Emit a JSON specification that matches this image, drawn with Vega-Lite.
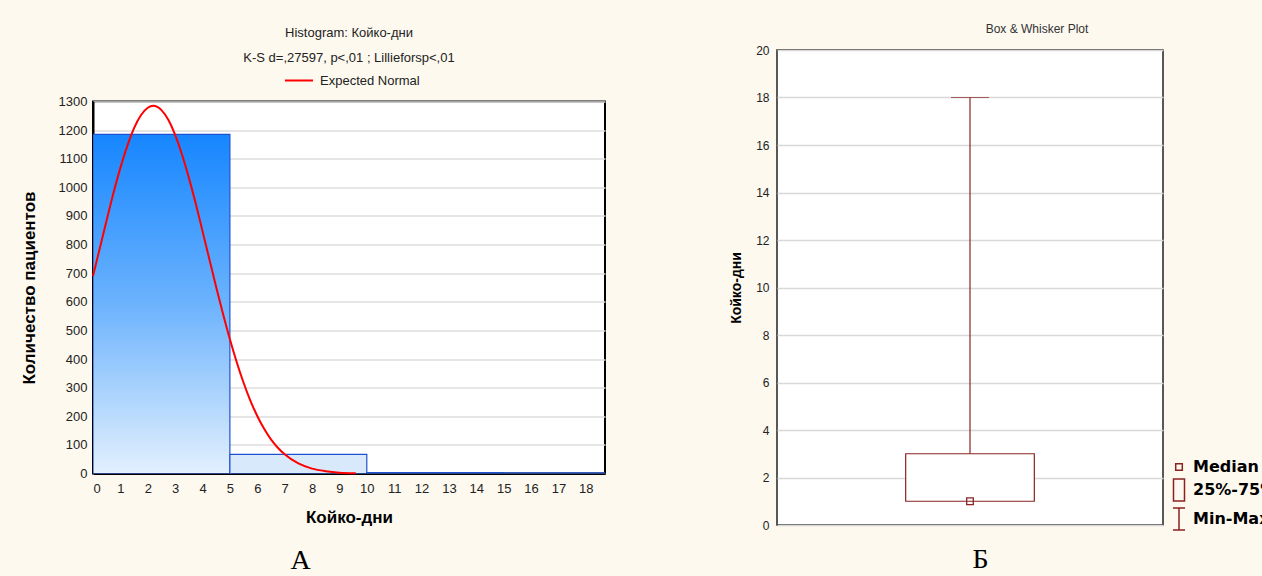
{
  "$schema": "https://vega.github.io/schema/vega-lite/v6.json",
  "background": "#fdf9ef",
  "padding": {"left": 19, "top": 22, "right": 0, "bottom": 0},
  "spacing": 172,
  "center": true,
  "bounds": "flush",
  "resolve": {"legend": {"color": "independent", "shape": "independent"}},
  "config": {
    "font": "Liberation Sans",
    "view": {"fill": "white"}
  },
  "hconcat": [
    {
      "width": 512,
      "height": 372,
      "title": {
        "text": "Histogram: Кoйко-дни",
        "subtitle": "K-S d=,27597, p<,01 ; Lillieforsp<,01",
        "fontSize": 13,
        "subtitleFontSize": 13,
        "fontWeight": "normal",
        "color": "#222222",
        "subtitleColor": "#222222",
        "subtitlePadding": 12,
        "offset": 1,
        "anchor": "middle"
      },
      "view": {"stroke": "black", "strokeWidth": 2, "fill": "white"},
      "resolve": {"scale": {"x": "independent"}, "axis": {"x": "independent"}},
      "layer": [
        {
          "data": {"values": [
            {"bin_start": 0, "bin_end": 5, "count": 1185},
            {"bin_start": 5, "bin_end": 10, "count": 67},
            {"bin_start": 10, "bin_end": 15, "count": 3},
            {"bin_start": 15, "bin_end": 20, "count": 2}
          ]},
          "mark": {"type": "bar", "stroke": "#1f52d2", "strokeWidth": 1.2, "clip": true},
          "encoding": {
            "x": {
              "field": "bin_start", "type": "quantitative",
              "scale": {"domain": [0, 18.7], "nice": false, "zero": false},
              "axis": {
                "orient": "bottom",
                "values": [0,1,2,3,4,5,6,7,8,9,10,11,12,13,14,15,16,17,18],
                "format": "d",
                "labelFontSize": 13, "labelColor": "#222222", "labelPadding": 9,
                "labelOverlap": false,
                "ticks": false, "grid": false,
                "domainColor": "black", "domainWidth": 2,
                "title": "Койко-дни", "titleFontSize": 17, "titleFontWeight": "bold",
                "titleColor": "black", "titlePadding": 14
              }
            },
            "x2": {"field": "bin_end"},
            "y": {
              "field": "count", "type": "quantitative",
              "scale": {"domain": [0, 1300], "nice": false},
              "axis": {
                "values": [0,100,200,300,400,500,600,700,800,900,1000,1100,1200,1300],
                "format": "d",
                "labelOverlap": false,
                "labelFontSize": 13, "labelColor": "#222222", "labelPadding": 6,
                "ticks": false,
                "grid": true, "gridColor": "#dcdcdc", "gridWidth": 1.5,
                "domainColor": "black", "domainWidth": 2,
                "title": "Количество пациентов", "titleFontSize": 17, "titleFontWeight": "bold",
                "titleColor": "black", "titlePadding": 20
              }
            },
            "y2": {"datum": 0},
            "fill": {
              "condition": {
                "test": "datum.bin_start == 0",
                "value": {"gradient": "linear", "x1": 0, "y1": 0, "x2": 0, "y2": 1,
                  "stops": [{"offset": 0, "color": "#1686ff"}, {"offset": 0.5, "color": "#6cb3fd"}, {"offset": 1, "color": "#e3f0fd"}]}
              },
              "value": "#d8e9fc"
            }
          }
        },
        {
          "data": {"values": [
            {"x": 0, "y": 690}, {"x": 0.25, "y": 788}, {"x": 0.5, "y": 886}, {"x": 0.75, "y": 981},
            {"x": 1.0, "y": 1068}, {"x": 1.25, "y": 1144}, {"x": 1.5, "y": 1207}, {"x": 1.75, "y": 1252},
            {"x": 2.0, "y": 1278}, {"x": 2.2, "y": 1285}, {"x": 2.5, "y": 1270}, {"x": 2.75, "y": 1236},
            {"x": 3.0, "y": 1183}, {"x": 3.25, "y": 1115}, {"x": 3.5, "y": 1034}, {"x": 3.75, "y": 944},
            {"x": 4.0, "y": 847}, {"x": 4.25, "y": 749}, {"x": 4.5, "y": 651}, {"x": 4.75, "y": 557},
            {"x": 5.0, "y": 469}, {"x": 5.25, "y": 389}, {"x": 5.5, "y": 317}, {"x": 5.75, "y": 254},
            {"x": 6.0, "y": 201}, {"x": 6.25, "y": 156}, {"x": 6.5, "y": 119}, {"x": 6.75, "y": 90},
            {"x": 7.0, "y": 67}, {"x": 7.5, "y": 35}, {"x": 8.0, "y": 17}, {"x": 8.5, "y": 8},
            {"x": 9.0, "y": 3}, {"x": 9.6, "y": 1}
          ]},
          "mark": {"type": "line", "strokeWidth": 2, "interpolate": "monotone"},
          "encoding": {
            "x": {
              "field": "x", "type": "quantitative",
              "scale": {"domain": [0, 18.7], "nice": false, "zero": false},
              "axis": {
                "orient": "bottom", "labels": false, "ticks": false, "domain": false, "grid": false,
                "title": "А", "titleFont": "Liberation Serif", "titleFontSize": 28,
                "titleFontWeight": "normal", "titleColor": "black",
                "titlePadding": 73, "titleX": 207
              }
            },
            "y": {
              "field": "y", "type": "quantitative",
              "scale": {"domain": [0, 1300], "nice": false},
              "axis": {
                "values": [0,100,200,300,400,500,600,700,800,900,1000,1100,1200,1300],
                "format": "d",
                "labelOverlap": false,
                "labelFontSize": 13, "labelColor": "#222222", "labelPadding": 6,
                "ticks": false,
                "grid": true, "gridColor": "#dcdcdc", "gridWidth": 1.5,
                "domainColor": "black", "domainWidth": 2,
                "title": "Количество пациентов", "titleFontSize": 17, "titleFontWeight": "bold",
                "titleColor": "black", "titlePadding": 20
              }
            },
            "color": {
              "datum": "Expected Normal", "type": "nominal",
              "scale": {"range": ["#ff0000"]},
              "legend": {
                "title": null, "orient": "none", "legendX": 191, "legendY": -36, "padding": 0,
                "symbolType": "stroke", "symbolStrokeWidth": 2, "symbolSize": 784,
                "labelFontSize": 13, "labelColor": "#222222", "labelOffset": 6
              }
            }
          }
        }
      ]
    },
    {
      "width": 386,
      "height": 475,
      "title": {
        "text": "Box & Whisker Plot", "fontSize": 12, "fontWeight": "normal",
        "color": "#333333", "offset": 8, "anchor": "middle", "dx": 67
      },
      "data": {"values": [
        {"var": "Койко-дни", "min": 1, "q1": 1, "median": 1, "q3": 3, "max": 18}
      ]},
      "view": {"stroke": "#222222", "strokeWidth": 1.5, "fill": "white"},
      "encoding": {
        "x": {
          "field": "var", "type": "nominal",
          "scale": {"paddingOuter": 2, "paddingInner": 0},
          "axis": {
            "labels": false, "ticks": false, "domain": false, "grid": false,
            "title": "Б", "titleFont": "Liberation Serif", "titleFontSize": 28,
            "titleFontWeight": "normal", "titleColor": "black", "titlePadding": 20,
            "titleX": 203
          }
        }
      },
      "layer": [
        {
          "mark": {"type": "rule", "color": "#8b2323", "strokeWidth": 1.2},
          "encoding": {
            "y": {
              "field": "q3", "type": "quantitative",
              "scale": {"domain": [0, 20], "nice": false},
              "axis": {
                "values": [0,2,4,6,8,10,12,14,16,18,20],
                "labelFontSize": 12, "labelColor": "#222222", "labelPadding": 8,
                "ticks": false, "domain": false,
                "grid": true, "gridColor": "#d8d8d8", "gridWidth": 1.5,
                "title": "Койко-дни", "titleFontSize": 14, "titleFontWeight": "bold",
                "titleColor": "black", "titlePadding": 12
              }
            },
            "y2": {"field": "max"}
          }
        },
        {
          "mark": {"type": "bar", "fill": "white", "stroke": "#8b2323", "strokeWidth": 1.2},
          "encoding": {
            "y": {"field": "q1", "type": "quantitative"},
            "y2": {"field": "q3"}
          }
        },
        {
          "mark": {"type": "tick", "color": "#8b2323", "size": 38, "thickness": 1.2},
          "encoding": {
            "y": {"field": "max", "type": "quantitative"}
          }
        },
        {
          "mark": {"type": "point", "filled": false, "stroke": "#8b2323", "strokeWidth": 1.3, "size": 484, "opacity": 1},
          "encoding": {
            "y": {"field": "median", "type": "quantitative"},
            "shape": {
              "datum": "Median", "type": "nominal",
              "scale": {
                "domain": ["Median", "25%-75%", "Min-Max"],
                "range": ["M-0.3,-0.3H0.3V0.3H-0.3Z", "M-0.5,-1H0.5V1H-0.5Z", "M-0.55,-1H0.55M0,-1V1M-0.55,1H0.55"]
              },
              "legend": {
                "title": null, "orient": "none", "legendX": 390, "legendY": 405, "padding": 0,
                "symbolSize": 484, "symbolStrokeColor": "#8b2323", "symbolStrokeWidth": 1.5,
                "symbolFillColor": "transparent",
                "labelFont": "DejaVu Sans", "labelFontSize": 16, "labelFontWeight": "bold", "labelColor": "black",
                "labelOffset": 2, "rowPadding": 1
              }
            }
          }
        }
      ]
    }
  ]
}
